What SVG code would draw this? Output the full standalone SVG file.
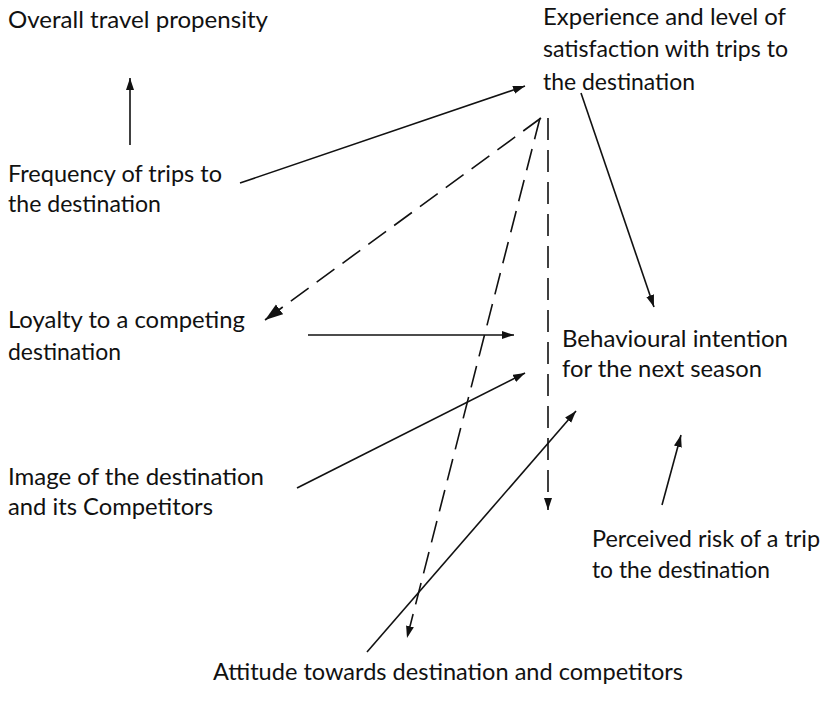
<svg xmlns="http://www.w3.org/2000/svg" width="833" height="706" viewBox="0 0 833 706">
  <style>
    .lbl { font-family: "Lato", "Liberation Sans", sans-serif; font-weight: 400; font-size: 24px; fill: #111; }
    .edge { stroke: #111; stroke-width: 1.6; fill: none; }
    .dash { stroke-dasharray: 22 10; }
  </style>
  <defs>
    <marker id="arrow" markerUnits="userSpaceOnUse" markerWidth="14" markerHeight="10" refX="12" refY="4" orient="auto">
      <path d="M0,0 L12,4 L0,8 Z" fill="#111"/>
    </marker>
    <marker id="arrowBig" markerUnits="userSpaceOnUse" markerWidth="20" markerHeight="14" refX="18" refY="6" orient="auto">
      <path d="M0,0 L18,6 L0,12 Z" fill="#111"/>
    </marker>
  </defs>

  <g id="overall">
    <text class="lbl" x="8" y="28" textLength="260" lengthAdjust="spacingAndGlyphs">Overall travel propensity</text>
  </g>
  <g id="experience">
    <text class="lbl" x="543" y="25" textLength="243" lengthAdjust="spacingAndGlyphs">Experience and level of</text>
    <text class="lbl" x="543" y="57" textLength="245" lengthAdjust="spacingAndGlyphs">satisfaction with trips to</text>
    <text class="lbl" x="543" y="90" textLength="152" lengthAdjust="spacingAndGlyphs">the destination</text>
  </g>
  <g id="frequency">
    <text class="lbl" x="8" y="182" textLength="214" lengthAdjust="spacingAndGlyphs">Frequency of trips to</text>
    <text class="lbl" x="8" y="212" textLength="153" lengthAdjust="spacingAndGlyphs">the destination</text>
  </g>
  <g id="loyalty">
    <text class="lbl" x="8" y="328" textLength="237" lengthAdjust="spacingAndGlyphs">Loyalty to a competing</text>
    <text class="lbl" x="8" y="360" textLength="113" lengthAdjust="spacingAndGlyphs">destination</text>
  </g>
  <g id="image">
    <text class="lbl" x="8" y="485" textLength="256" lengthAdjust="spacingAndGlyphs">Image of the destination</text>
    <text class="lbl" x="8" y="515" textLength="205" lengthAdjust="spacingAndGlyphs">and its Competitors</text>
  </g>
  <g id="behaviour">
    <text class="lbl" x="562" y="347" textLength="226" lengthAdjust="spacingAndGlyphs">Behavioural intention</text>
    <text class="lbl" x="562" y="377" textLength="200" lengthAdjust="spacingAndGlyphs">for the next season</text>
  </g>
  <g id="risk">
    <text class="lbl" x="592" y="547" textLength="228" lengthAdjust="spacingAndGlyphs">Perceived risk of a trip</text>
    <text class="lbl" x="592" y="578" textLength="178" lengthAdjust="spacingAndGlyphs">to the destination</text>
  </g>
  <g id="attitude">
    <text class="lbl" x="213" y="680" textLength="470" lengthAdjust="spacingAndGlyphs">Attitude towards destination and competitors</text>
  </g>

  <g id="connectors">
    <line class="edge" x1="130" y1="145" x2="130" y2="78" marker-end="url(#arrow)"/>
    <line class="edge" x1="240" y1="183" x2="525" y2="86" marker-end="url(#arrow)"/>
    <line class="edge dash" x1="541" y1="118" x2="265" y2="320" marker-end="url(#arrowBig)"/>
    <line class="edge dash" x1="540" y1="118" x2="407" y2="638" marker-end="url(#arrow)"/>
    <line class="edge dash" x1="548" y1="118" x2="548" y2="510" marker-end="url(#arrow)"/>
    <line class="edge" x1="581" y1="93" x2="654" y2="307" marker-end="url(#arrow)"/>
    <line class="edge" x1="308" y1="335" x2="514" y2="335" marker-end="url(#arrow)"/>
    <line class="edge" x1="297" y1="488" x2="525" y2="373" marker-end="url(#arrow)"/>
    <line class="edge" x1="367" y1="652" x2="576" y2="411" marker-end="url(#arrow)"/>
    <line class="edge" x1="662" y1="505" x2="681" y2="435" marker-end="url(#arrow)"/>
  </g>
</svg>
